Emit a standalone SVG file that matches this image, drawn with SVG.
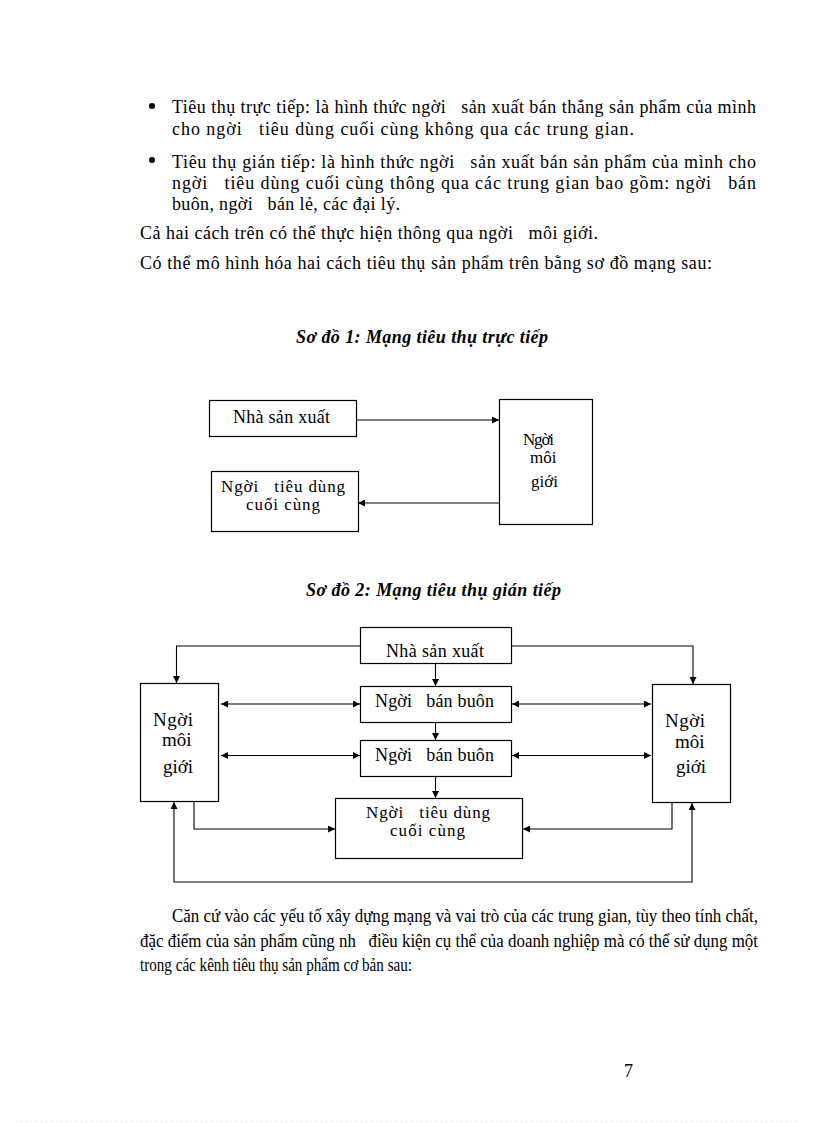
<svg xmlns="http://www.w3.org/2000/svg" width="816" height="1123" viewBox="0 0 816 1123">
<style>
text{font-family:"Liberation Serif","Times New Roman",serif;font-size:18px;fill:#000;white-space:pre}
.t{font-weight:bold;font-style:italic}
.big{font-size:19px}
.sm{font-size:17px}
.two{font-size:17px}
.box{fill:#fff;stroke:#000;stroke-width:1.2}
.ln{fill:none;stroke:#000;stroke-width:1.1}
</style>
<defs>
<marker id="ah" viewBox="0 0 8 8" refX="8" refY="4" markerWidth="8" markerHeight="7" orient="auto-start-reverse" markerUnits="userSpaceOnUse"><path d="M0,0 L8,4 L0,8z" fill="#000"/></marker>
</defs>
<rect width="816" height="1123" fill="#fff"/>

<g id="body-text">
<circle cx="152" cy="106" r="3"/>
<text x="172" y="113" textLength="584">Tiêu thụ trực tiếp: là hình thức ngời   sản xuất bán thẳng sản phẩm của mình</text>
<text x="172" y="135" textLength="462">cho ngời   tiêu dùng cuối cùng không qua các trung gian.</text>
<circle cx="152" cy="160" r="3"/>
<text x="172" y="168" textLength="584">Tiêu thụ gián tiếp: là hình thức ngời   sản xuất bán sản phẩm của mình cho</text>
<text x="172" y="189" textLength="584">ngời   tiêu dùng cuối cùng thông qua các trung gian bao gồm: ngời   bán</text>
<text x="172" y="210" textLength="228">buôn, ngời   bán lẻ, các đại lý.</text>
<text x="140" y="239" textLength="458">Cả hai cách trên có thể thực hiện thông qua ngời   môi giới.</text>
<text x="140" y="269" textLength="572">Có thể mô hình hóa hai cách tiêu thụ sản phẩm trên bằng sơ đồ mạng sau:</text>
<text class="t" x="296" y="343" textLength="252">Sơ đồ 1: Mạng tiêu thụ trực tiếp</text>
<text class="t" x="306" y="596" textLength="255">Sơ đồ 2: Mạng tiêu thụ gián tiếp</text>
<text x="172" y="922" textLength="586" lengthAdjust="spacingAndGlyphs">Căn cứ vào các yếu tố xây dựng mạng và vai trò của các trung gian, tùy theo tính chất,</text>
<text x="140" y="947" textLength="618" lengthAdjust="spacingAndGlyphs">đặc điểm của sản phẩm cũng nh   điều kiện cụ thể của doanh nghiệp mà có thể sử dụng một</text>
<text x="140" y="971" textLength="272" lengthAdjust="spacingAndGlyphs">trong các kênh tiêu thụ sản phẩm cơ bản sau:</text>
<text x="624" y="1077">7</text>
<line x1="16" y1="1121.5" x2="800" y2="1121.5" stroke="#d8c8d8" stroke-width="1" stroke-dasharray="1 4"/>
</g>

<g id="d1-connectors">
<line class="ln" x1="356" y1="420" x2="499" y2="420" marker-end="url(#ah)"/>
<line class="ln" x1="499" y1="503" x2="358" y2="503" marker-end="url(#ah)"/>
</g>
<g id="d1-nha-san-xuat">
<rect class="box" x="209.5" y="400.5" width="147" height="36"/>
<text x="233" y="423" textLength="97">Nhà sản xuất</text>
</g>
<g id="d1-moi-gioi">
<rect class="box" x="499.5" y="399.5" width="93" height="125"/>
<text class="sm" x="523" y="445" textLength="31">Ngời</text>
<text class="sm" x="530" y="463">môi</text>
<text class="sm" x="531" y="487">giới</text>
</g>
<g id="d1-tieu-dung">
<rect class="box" x="211.5" y="471.5" width="147" height="60"/>
<text class="two" x="221" y="492" textLength="124">Ngời   tiêu dùng</text>
<text class="two" x="246" y="510" textLength="74">cuối cùng</text>
</g>

<g id="d2-connectors">
<path class="ln" d="M360,646 H176.5 V683" marker-end="url(#ah)"/>
<path class="ln" d="M511,646 H693 V684" marker-end="url(#ah)"/>
<line class="ln" x1="435.5" y1="663" x2="435.5" y2="686" marker-end="url(#ah)"/>
<line class="ln" x1="435.5" y1="722" x2="435.5" y2="740" marker-end="url(#ah)"/>
<line class="ln" x1="435.5" y1="776" x2="435.5" y2="798" marker-end="url(#ah)"/>
<line class="ln" x1="221" y1="704" x2="360" y2="704" marker-start="url(#ah)" marker-end="url(#ah)"/>
<line class="ln" x1="221" y1="755.5" x2="360" y2="755.5" marker-start="url(#ah)" marker-end="url(#ah)"/>
<line class="ln" x1="512" y1="704" x2="651" y2="704" marker-start="url(#ah)" marker-end="url(#ah)"/>
<line class="ln" x1="512" y1="755.5" x2="651" y2="755.5" marker-start="url(#ah)" marker-end="url(#ah)"/>
<path class="ln" d="M194,802 V829 H335" marker-end="url(#ah)"/>
<path class="ln" d="M672,803 V829 H523" marker-end="url(#ah)"/>
<path class="ln" d="M174,802 V882 H692 V803" marker-start="url(#ah)" marker-end="url(#ah)"/>
</g>
<g id="d2-nha-san-xuat">
<rect class="box" x="360.5" y="627.5" width="151" height="36"/>
<text x="386" y="657" textLength="98">Nhà sản xuất</text>
</g>
<g id="d2-ban-buon-1">
<rect class="box" x="360.5" y="686.5" width="151" height="36"/>
<text x="375" y="707" textLength="119">Ngời   bán buôn</text>
</g>
<g id="d2-ban-buon-2">
<rect class="box" x="360.5" y="740.5" width="151" height="36"/>
<text x="375" y="761" textLength="119">Ngời   bán buôn</text>
</g>
<g id="d2-tieu-dung">
<rect class="box" x="335.5" y="798.5" width="187" height="60"/>
<text class="two" x="366" y="818" textLength="124">Ngời   tiêu dùng</text>
<text class="two" x="390" y="836" textLength="75">cuối cùng</text>
</g>
<g id="d2-moi-gioi-trai">
<rect class="box" x="140.5" y="683.5" width="78" height="118"/>
<text class="big" x="153" y="726" textLength="40">Ngời</text>
<text class="big" x="162" y="746">môi</text>
<text class="big" x="163" y="773">giới</text>
</g>
<g id="d2-moi-gioi-phai">
<rect class="box" x="652.5" y="684.5" width="78" height="118"/>
<text class="big" x="665" y="727" textLength="40">Ngời</text>
<text class="big" x="675" y="748">môi</text>
<text class="big" x="676" y="773">giới</text>
</g>
</svg>
